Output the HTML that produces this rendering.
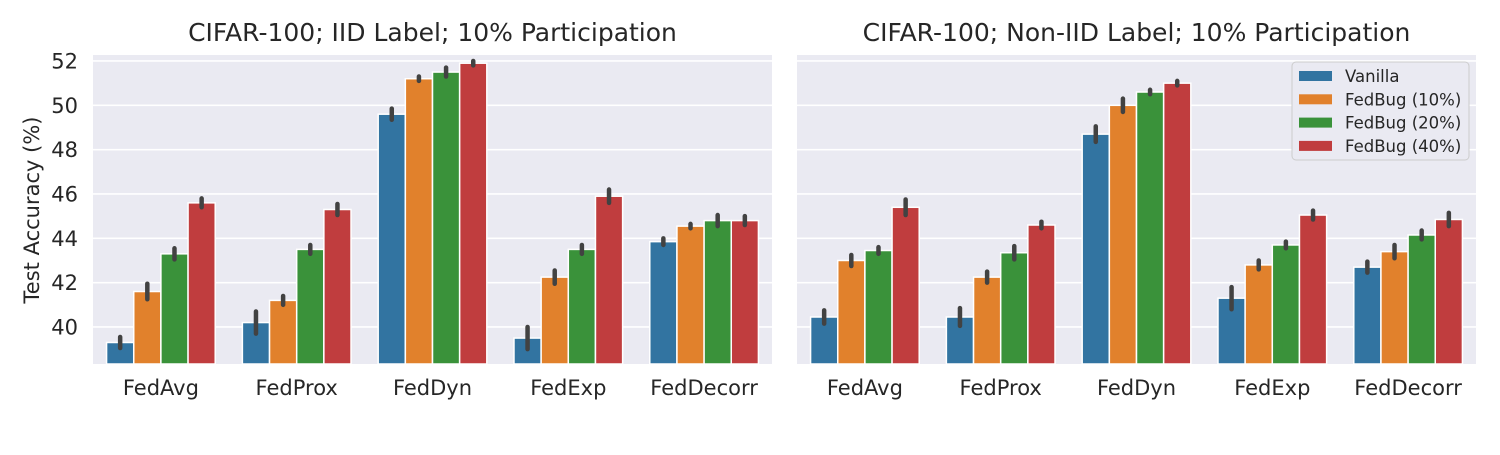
<!DOCTYPE html>
<html><head><meta charset="utf-8"><style>
body{margin:0;background:#fff;}
svg text{font-family:"DejaVu Sans","Liberation Sans",sans-serif;fill:#262626;}
</style></head><body>
<svg id="chart" width="1500" height="450" xmlns="http://www.w3.org/2000/svg"></svg>
<script>
const categories=["FedAvg","FedProx","FedDyn","FedExp","FedDecorr"];
const seriesNames=["Vanilla","FedBug (10%)","FedBug (20%)","FedBug (40%)"];
const colors=["#3274a1","#e1812c","#3a923a","#c03d3e"];
const titles=["CIFAR-100; IID Label; 10% Participation","CIFAR-100; Non-IID Label; 10% Participation"];
const yTicks=[40,42,44,46,48,50,52];
const iidValues=[[39.3,40.2,49.6,39.5,43.85],[41.6,41.2,51.2,42.25,44.55],[43.3,43.5,51.5,43.5,44.8],[45.6,45.3,51.9,45.9,44.8]];
const iidErr=[[0.25,0.5,0.25,0.5,0.15],[0.35,0.2,0.1,0.3,0.1],[0.25,0.2,0.2,0.2,0.25],[0.2,0.25,0.1,0.3,0.2]];
const nonValues=[[40.45,40.45,48.7,41.3,42.7],[43.0,42.25,50.0,42.8,43.4],[43.45,43.35,50.6,43.7,44.15],[45.4,44.6,51.0,45.05,44.85]];
const nonErr=[[0.3,0.4,0.35,0.5,0.25],[0.25,0.25,0.3,0.2,0.3],[0.15,0.3,0.1,0.15,0.2],[0.35,0.15,0.1,0.2,0.3]];
const svg=document.getElementById('chart');
const NS="http://www.w3.org/2000/svg";
function mk(tag,attrs,parent){const e=document.createElementNS(NS,tag);for(const k in attrs)e.setAttribute(k,attrs[k]);(parent||svg).appendChild(e);return e;}
const top_=55,bot=364,yMin=38.33,yMax=52.27;
function yS(v){return bot-(v-yMin)/(yMax-yMin)*(bot-top_);}
const panels=[{x0:93,x1:772,vals:iidValues,errs:iidErr},{x0:797,x1:1476,vals:nonValues,errs:nonErr}];
panels.forEach((p,pi)=>{
  const g=mk('g',{});
  
  
  const bg=mk('rect',{x:p.x0,y:top_,width:p.x1-p.x0,height:bot-top_,fill:'#eaeaf2'},g);
  
  
  yTicks.forEach(t=>{
    const l=mk('line',{x1:p.x0,x2:p.x1,y1:yS(t),y2:yS(t),stroke:'#fff','stroke-width':1.6},g);
    
    
    if(pi==0){const tx=mk('text',{x:p.x0-15,y:yS(t)+7.5,'text-anchor':'end','font-size':21},g);tx.textContent=t;
      
      }
  });
  const gw=(p.x1-p.x0)/categories.length,bw=gw*0.8/4;
  categories.forEach((c,ci)=>{
    const cx=p.x0+gw*(ci+0.5);
    seriesNames.forEach((s,si)=>{
      const v=p.vals[si][ci],e=p.errs[si][ci];
      const bx=cx-gw*0.4+si*bw;
      const r=mk('rect',{x:bx,y:yS(v),width:bw,height:bot-yS(v),fill:colors[si],stroke:'#fff','stroke-width':1.5},g);
      
      
      const el=mk('line',{x1:bx+bw/2,x2:bx+bw/2,y1:yS(v-e),y2:yS(v+e),stroke:'#424242','stroke-width':4.5,'stroke-linecap':'round'},g);
      
      
    });
    const tx=mk('text',{x:cx,y:bot+31,'text-anchor':'middle','font-size':21},g);tx.textContent=c;
    
    
  });
  const tt=mk('text',{x:(p.x0+p.x1)/2,y:41,'text-anchor':'middle','font-size':25},g);tt.textContent=titles[pi];
  
  
});
const yl=mk('text',{x:39,y:210,'text-anchor':'middle','font-size':21,transform:'rotate(-90 39 210)'});yl.textContent='Test Accuracy (%)';


const lg=mk('g',{});


mk('rect',{x:1292,y:62,width:177,height:98,rx:4,fill:'#eaeaf2',stroke:'#cccccc','stroke-width':1},lg);
seriesNames.forEach((s,si)=>{
  const y=76+si*23.3;
  mk('rect',{x:1299,y:y-5,width:33,height:10,fill:colors[si]},lg);
  const t=mk('text',{x:1345,y:y+6,'font-size':16.5},lg);t.textContent=s;
  
  
});
</script>
</body></html>
